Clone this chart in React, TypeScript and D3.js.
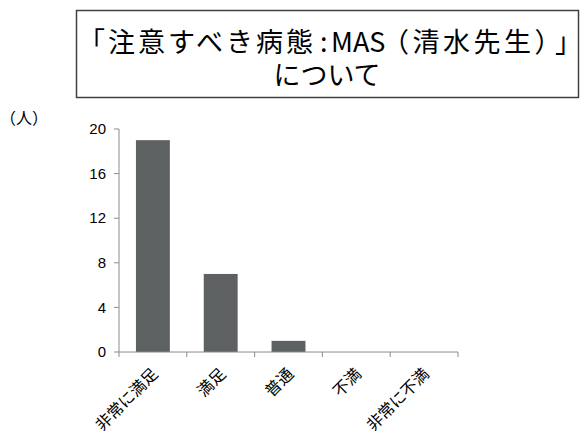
import React from "react";
import * as d3 from "d3";

const categories = ["非常に満足", "満足", "普通", "不満", "非常に不満"];
const counts = [19, 7, 1, 0, 0];
const yTicks = [0, 4, 8, 12, 16, 20];
const titleHead = "「注意すべき病態";
const titleColon = ":";
const titleAbbr = "MAS";
const titleParen = "（清水先生）";
const titleClose = "」";
const titleLine2 = "について";
const unitLabel = "（人）";

const W = 581;
const H = 435;
const margin = { left: 119, right: 123, top: 129, bottom: 83 };

export default function App() {
  const x = d3
    .scaleBand<string>()
    .domain(categories)
    .range([margin.left, W - margin.right])
    .paddingInner(0.5)
    .paddingOuter(0.25);
  const y = d3
    .scaleLinear()
    .domain([0, 20])
    .range([H - margin.bottom, margin.top]);
  const step = x.step();
  const x0 = margin.left;
  const x1 = W - margin.right;
  const font = "'Liberation Sans', Arial, 'Noto Sans CJK JP', sans-serif";
  const cjk = "'Noto Sans CJK JP', sans-serif";

  return (
    <svg
      width={W}
      height={H}
      style={{ position: "absolute", left: 0, top: 0, background: "#fff" }}
    >
      <rect x={76.5} y={10.5} width={502} height={87} fill="#fff" stroke="#404040" strokeWidth={1.5} />
      <text y={52} fontFamily={cjk} fontSize={27} fill="#000">
        <tspan x={78} style={{ letterSpacing: "3px" }}>{titleHead}</tspan>
        <tspan x={320}>{titleColon}</tspan>
        <tspan x={331}>{titleAbbr}</tspan>
        <tspan x={382} style={{ letterSpacing: "3.5px" }}>{titleParen}</tspan>
        <tspan x={555}>{titleClose}</tspan>
      </text>
      <text x={327} y={85} textAnchor="middle" fontFamily={cjk} fontSize={27} fill="#000">
        {titleLine2}
      </text>

      <text x={0} y={124} fontFamily={cjk} fontSize={16} fill="#000">
        {unitLabel}
      </text>

      {/* y axis */}
      <line x1={x0} x2={x0} y1={y(20)} y2={y(0)} stroke="#8c8c8c" strokeWidth={1} />
      {yTicks.map((t) => (
        <g key={t}>
          <line x1={x0 - 5} x2={x0} y1={y(t)} y2={y(t)} stroke="#8c8c8c" />
          <text
            x={x0 - 13}
            y={y(t)}
            dy="0.35em"
            textAnchor="end"
            fontFamily={font}
            fontSize={15}
            fill="#000"
          >
            {t}
          </text>
        </g>
      ))}

      {/* bars */}
      {categories.map((c, i) => (
        <rect
          key={c}
          x={x(c)!}
          y={y(counts[i])}
          width={x.bandwidth()}
          height={y(0) - y(counts[i])}
          fill="#5e6162"
        />
      ))}

      {/* x axis */}
      <line x1={x0} x2={x1} y1={y(0)} y2={y(0)} stroke="#8c8c8c" />
      {d3.range(categories.length + 1).map((i) => (
        <line
          key={i}
          x1={x0 + i * step}
          x2={x0 + i * step}
          y1={y(0)}
          y2={y(0) + 5}
          stroke="#8c8c8c"
        />
      ))}
      {categories.map((c) => {
        const cx = x(c)! + x.bandwidth() / 2 + 6;
        const cy = y(0) + 23;
        return (
          <text
            key={c}
            transform={`translate(${cx},${cy}) rotate(-45)`}
            textAnchor="end"
            fontFamily={cjk}
            fontSize={16}
            fill="#000"
          >
            {c}
          </text>
        );
      })}
    </svg>
  );
}
